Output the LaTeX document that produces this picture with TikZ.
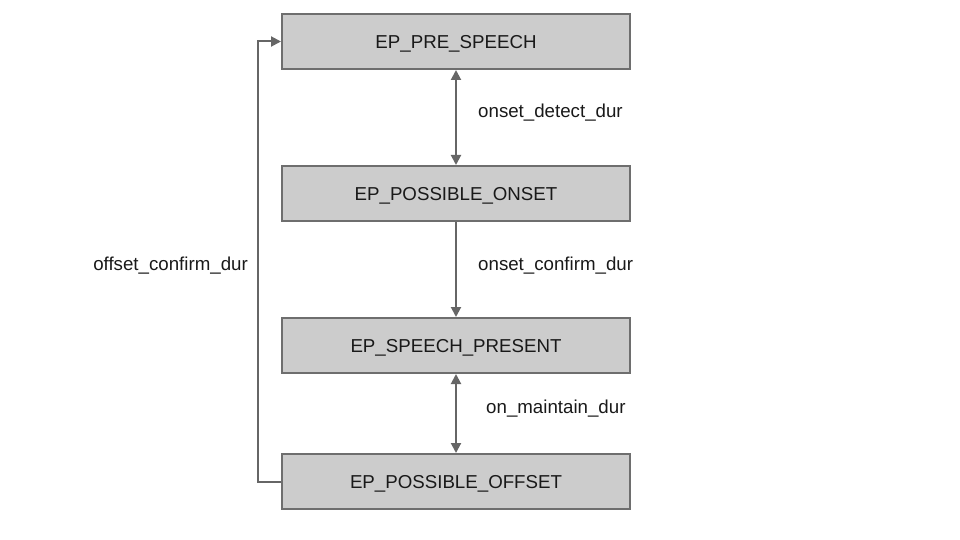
\documentclass[tikz,border=0pt]{standalone}
\usepackage{fontspec}
\setmainfont{Liberation Sans}
\usetikzlibrary{arrows.meta}
\definecolor{boxfill}{HTML}{CCCCCC}
\definecolor{boxline}{HTML}{6E6E6E}
\definecolor{conn}{HTML}{666666}
\begin{document}
\begin{tikzpicture}[x=1pt,y=-1pt,
  state/.style={draw=boxline,fill=boxfill,line width=2pt,minimum width=348pt,minimum height=55pt,inner sep=0pt,text height=13.4pt,text depth=0pt,font=\fontsize{18.7}{22}\selectfont,text=black!90},
  conn/.style={draw=conn,line width=2pt,-{Triangle[length=10pt,width=10pt]}},
  dconn/.style={draw=conn,line width=2pt,{Triangle[length=10pt,width=10pt]}-{Triangle[length=10pt,width=10pt]}},
  lbl/.style={font=\fontsize{18.7}{22}\selectfont,text=black!90,inner sep=0pt,text height=13.4pt,text depth=0pt}]
\useasboundingbox (0,0) rectangle (960,540);
\node[state] (pre) at (456,41.5) {EP\_PRE\_SPEECH};
\node[state] (onset) at (456,193.5) {EP\_POSSIBLE\_ONSET};
\node[state] (present) at (456,345.5) {EP\_SPEECH\_PRESENT};
\node[state] (offset) at (456,481.5) {EP\_POSSIBLE\_OFFSET};
\draw[dconn] (pre) -- (onset);
\draw[conn] (onset) -- (present);
\draw[dconn] (present) -- (offset);
\coordinate (c1) at (258,481.5);
\coordinate (c2) at (258,41.5);
\draw[conn] (offset.west) -- (c1) -- (c2) -- (pre.west);
\node[lbl,anchor=west] (l1) at (478,111) {onset\_detect\_dur};
\node[lbl,anchor=west] (l2) at (478,264) {onset\_confirm\_dur};
\node[lbl,anchor=west] (l3) at (486,407) {on\_maintain\_dur};
\node[lbl,anchor=east] (l4) at (248,264) {offset\_confirm\_dur};
\end{tikzpicture}
\end{document}
